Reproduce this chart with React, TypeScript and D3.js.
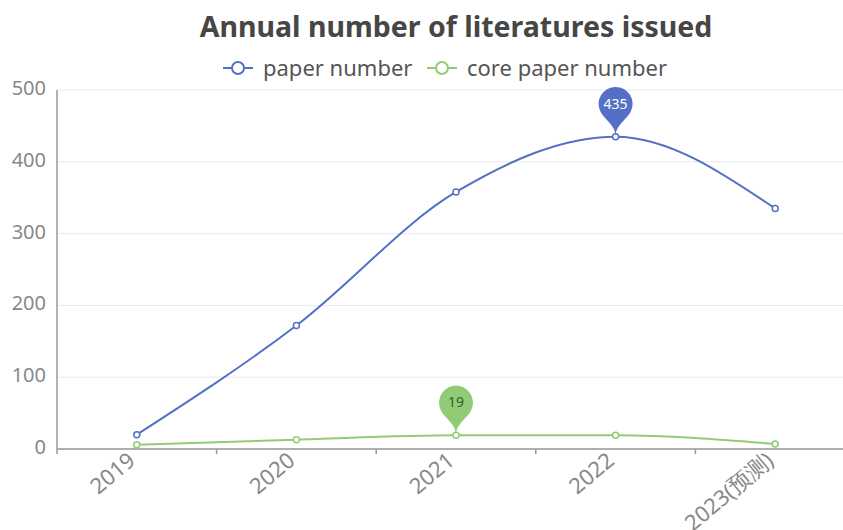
import React from "react";
import * as d3 from "d3";

const years = ["2019", "2020", "2021", "2022", "2023(预测)"];
const paperNumber = [20, 172, 358, 435, 335];
const corePaperNumber = [6, 13, 19, 19, 7];
const yTicks = [0, 100, 200, 300, 400, 500];
const seriesNames = ["paper number", "core paper number"];
const seriesColors = ["#5470c6", "#91cc75"];

const W = 843;
const H = 530;
const FONT = "'Noto Sans', 'Open Sans', sans-serif";

// ECharts-style "pin" symbol, tip at (x, y)
function pinPath(x: number, y: number, width: number, height: number) {
  const w = width;
  const h = Math.max(w, height);
  const r = w / 2;
  const dy = (r * r) / (h - r);
  const cy = y - h + r + dy;
  const angle = Math.asin(dy / r);
  const dx = Math.cos(angle) * r;
  const tanX = Math.sin(angle);
  const tanY = Math.cos(angle);
  const cpLen = r * 0.6;
  const cpLen2 = r * 0.7;
  const p = d3.path();
  p.moveTo(x - dx, cy + dy);
  p.arc(x, cy, r, Math.PI - angle, Math.PI * 2 + angle);
  p.bezierCurveTo(x + dx - tanX * cpLen, cy + dy + tanY * cpLen, x, y - cpLen2, x, y);
  p.bezierCurveTo(x, y - cpLen2, x - dx + tanX * cpLen, cy + dy + tanY * cpLen, x - dx, cy + dy);
  p.closePath();
  return { d: p.toString(), cy };
}

export default function App() {
  const left = 57;
  const right = 855;
  const top = 90;
  const bottom = 449;

  const x = d3.scaleBand<string>().domain(years).range([left, right]).paddingInner(0).paddingOuter(0);
  const xc = (c: string) => (x(c) as number) + x.bandwidth() / 2;
  const y = d3.scaleLinear().domain([0, 500]).range([bottom, top]);

  const line = d3
    .line<number>()
    .x((_, i) => xc(years[i]))
    .y((v) => y(v))
    .curve(d3.curveMonotoneX);

  const series = [paperNumber, corePaperNumber];

  const boundaries = years.map((c) => x(c) as number).concat([right]);

  const legendItems = [
    { name: seriesNames[0], color: seriesColors[0], x: 223 },
    { name: seriesNames[1], color: seriesColors[1], x: 427 },
  ];

  return (
    <svg
      width={W}
      height={H}
      style={{ position: "absolute", left: 0, top: 0, background: "#fff" }}
      fontFamily={FONT}
    >
      {/* title */}
      <text x={456} y={37} textAnchor="middle" fontSize={28.5} fontWeight="bold" fill="#464646">
        Annual number of literatures issued
      </text>

      {/* legend */}
      {legendItems.map((it) => (
        <g key={it.name}>
          <line x1={it.x} x2={it.x + 30} y1={68} y2={68} stroke={it.color} strokeWidth={2} />
          <circle cx={it.x + 15} cy={68} r={6} fill="#fff" stroke={it.color} strokeWidth={2} />
          <text x={it.x + 40} y={68} dy="0.35em" fontSize={22} fill="#555">
            {it.name}
          </text>
        </g>
      ))}

      {/* grid */}
      {yTicks.map((t) => (
        <line key={t} x1={left} x2={W} y1={y(t)} y2={y(t)} stroke="#e6e9f0" strokeWidth={1} />
      ))}

      {/* y axis */}
      <line x1={left} x2={left} y1={top} y2={bottom} stroke="#999" strokeWidth={1.5} />
      {yTicks.map((t) => (
        <text key={t} x={46} y={y(t)} dy="0.25em" textAnchor="end" fontSize={20} fill="#888">
          {t}
        </text>
      ))}

      {/* x axis */}
      <line x1={left} x2={W} y1={bottom} y2={bottom} stroke="#999" strokeWidth={1.5} />
      {boundaries.map((b, i) => (
        <line key={i} x1={b} x2={b} y1={bottom} y2={bottom + 5} stroke="#999" strokeWidth={1.5} />
      ))}
      {years.map((c) => (
        <text
          key={c}
          transform={`translate(${xc(c) - 5},${bottom + 8}) rotate(-40)`}
          textAnchor="end"
          dy="0.35em"
          fontSize={22}
          fill="#888"
        >
          {c}
        </text>
      ))}

      {/* lines */}
      {series.map((s, si) => (
        <path key={si} d={line(s) || ""} fill="none" stroke={seriesColors[si]} strokeWidth={2} />
      ))}
      {series.map((s, si) =>
        s.map((v, i) => (
          <circle
            key={`${si}-${i}`}
            cx={xc(years[i])}
            cy={y(v)}
            r={3}
            fill="#fff"
            stroke={seriesColors[si]}
            strokeWidth={1.5}
          />
        ))
      )}

      {/* max markers */}
      {series.map((s, si) => {
        const maxV = d3.max(s) as number;
        const idx = s.indexOf(maxV);
        const px = xc(years[idx]);
        const py = y(maxV);
        const pin = pinPath(px, py, 34, 57);
        return (
          <g key={`pin-${si}`}>
            <path d={pin.d} fill={seriesColors[si]} />
            <text x={px} y={pin.cy} dy="0.35em" textAnchor="middle" fontSize={14} fill={si === 0 ? "#fff" : "#3a5a2a"}>
              {maxV}
            </text>
          </g>
        );
      })}
    </svg>
  );
}
